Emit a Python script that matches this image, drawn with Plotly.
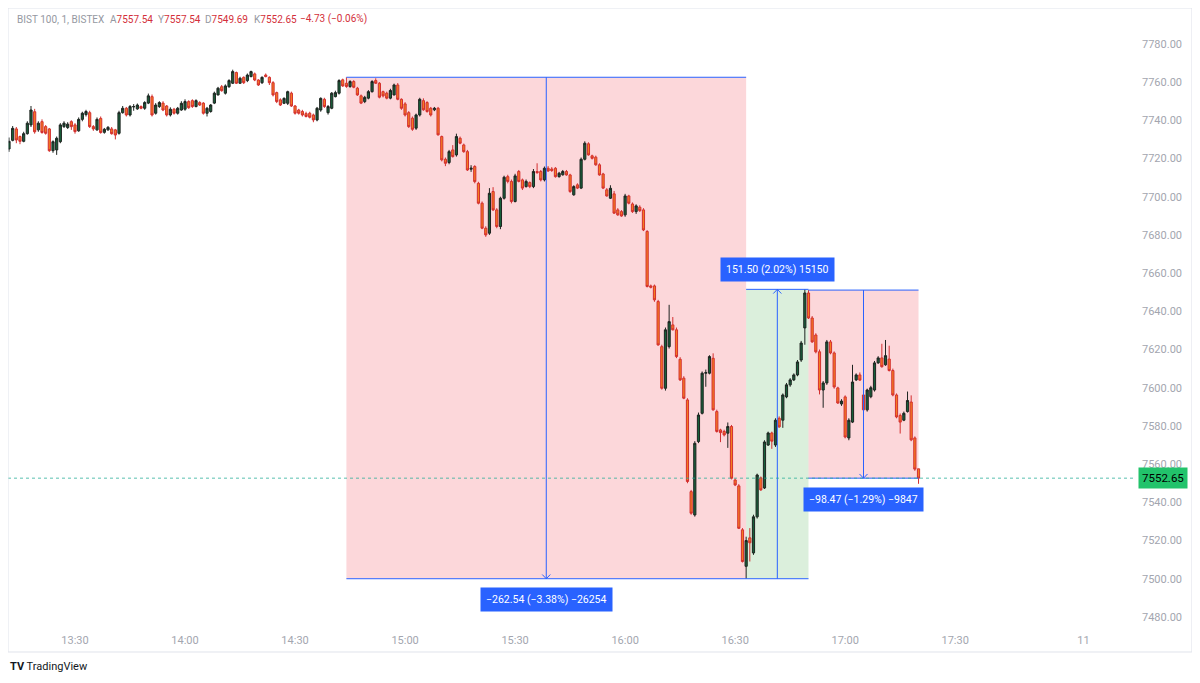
import plotly.graph_objects as go

# ---------------- data (1-minute bars, minutes after 13:30; 13:12 ... 17:20) ----------------
minutes = list(range(-18, 231))

open_ = [
    7725.0, 7729.5, 7735.5, 7731.5, 7729.0, 7733.0, 7737.6, 7744.5, 7735.0, 7739.3,
    7736.7, 7735.5, 7724.1, 7724.5, 7728.8, 7736.7, 7736.2, 7739.3, 7737.6, 7734.5,
    7740.5, 7743.0, 7744.0, 7736.7, 7735.0, 7741.0, 7733.7, 7735.0, 7735.5, 7735.0,
    7733.2, 7744.0, 7746.3, 7742.8, 7747.0, 7746.0, 7747.2, 7746.3, 7749.0, 7752.4,
    7743.7, 7747.2, 7749.0, 7747.5, 7742.8, 7745.8, 7743.7, 7745.4, 7745.8, 7749.8,
    7750.3, 7747.2, 7749.3, 7749.0, 7743.7, 7744.6, 7749.0, 7753.3, 7757.6, 7754.2,
    7757.6, 7759.4, 7765.0, 7759.4, 7762.5, 7760.8, 7762.9, 7764.3, 7761.1, 7759.7,
    7763.7, 7762.5, 7759.7, 7754.5, 7750.7, 7748.9, 7748.9, 7754.2, 7747.5, 7745.4,
    7744.6, 7743.5, 7743.7, 7742.8, 7740.2, 7745.4, 7751.0, 7744.0, 7746.3, 7752.4,
    7754.2, 7761.2, 7759.4, 7757.7, 7760.3, 7756.8, 7752.8, 7749.8, 7751.6, 7755.0,
    7760.8, 7759.4, 7755.0, 7754.2, 7751.6, 7753.3, 7758.5, 7751.0, 7748.6, 7744.0,
    7741.1, 7735.9, 7742.8, 7750.3, 7749.3, 7746.3, 7745.5, 7746.3, 7731.5, 7719.6,
    7717.9, 7724.5, 7721.9, 7730.6, 7727.1, 7723.6, 7714.4, 7715.8, 7707.0, 7696.6,
    7683.5, 7680.9, 7702.7, 7693.1, 7684.4, 7699.2, 7710.5, 7708.0, 7697.5, 7713.2,
    7708.8, 7705.3, 7707.4, 7705.3, 7713.2, 7713.2, 7708.8, 7714.9, 7714.5, 7714.9,
    7710.5, 7711.5, 7713.2, 7711.4, 7701.0, 7706.2, 7704.5, 7719.6, 7727.7, 7721.4,
    7720.7, 7716.7, 7711.9, 7703.6, 7699.2, 7701.5, 7693.1, 7692.2, 7690.5, 7700.4,
    7696.2, 7692.2, 7694.5, 7693.1, 7681.8, 7653.3, 7653.3, 7645.1, 7621.5, 7599.7,
    7621.5, 7632.9, 7630.3, 7614.9, 7605.0, 7593.6, 7545.6, 7533.4, 7571.8, 7586.6,
    7607.6, 7607.6, 7615.4, 7587.5, 7577.9, 7577.1, 7576.2, 7579.7, 7551.7, 7548.6,
    7525.6, 7506.5, 7521.4, 7513.5, 7532.4, 7552.8, 7547.5, 7570.0, 7576.3, 7570.0,
    7584.0, 7583.0, 7595.2, 7601.5, 7604.1, 7606.7, 7614.5, 7631.3, 7649.6, 7636.5,
    7627.6, 7618.8, 7598.8, 7602.5, 7624.0, 7618.2, 7599.9, 7591.5, 7595.2, 7573.7,
    7582.0, 7604.1, 7606.7, 7596.2, 7588.4, 7595.3, 7598.8, 7613.0, 7615.6, 7612.0,
    7615.0, 7609.0, 7596.2, 7585.5, 7583.0, 7587.5, 7592.5, 7573.7, 7557.54,
]
high = [
    7731.0, 7737.0, 7736.5, 7732.0, 7734.0, 7739.5, 7747.5, 7746.0, 7739.5, 7740.5,
    7737.5, 7736.0, 7729.5, 7731.5, 7738.5, 7739.5, 7739.0, 7740.0, 7738.5, 7741.5,
    7744.5, 7745.5, 7745.0, 7737.5, 7741.5, 7742.0, 7736.0, 7737.0, 7736.5, 7735.5,
    7745.0, 7747.5, 7747.0, 7748.0, 7748.5, 7748.8, 7747.8, 7750.0, 7754.0, 7753.5,
    7749.0, 7750.0, 7750.0, 7748.0, 7746.8, 7746.5, 7747.0, 7750.0, 7751.0, 7750.5,
    7751.0, 7751.0, 7750.0, 7749.5, 7747.0, 7748.5, 7755.0, 7757.5, 7758.5, 7758.8,
    7761.5, 7766.5, 7765.5, 7762.8, 7763.0, 7764.5, 7766.0, 7765.0, 7761.5, 7763.0,
    7764.5, 7763.0, 7760.5, 7755.0, 7751.5, 7752.0, 7755.5, 7755.0, 7748.0, 7746.0,
    7745.5, 7744.5, 7744.5, 7743.5, 7747.0, 7752.0, 7751.8, 7748.0, 7754.8, 7755.5,
    7761.5, 7761.8, 7762.5, 7761.0, 7761.0, 7757.5, 7753.5, 7752.8, 7755.8, 7761.0,
    7762.0, 7760.0, 7755.5, 7755.0, 7756.5, 7759.2, 7759.5, 7751.5, 7749.5, 7744.8,
    7742.0, 7743.5, 7751.8, 7751.5, 7750.0, 7747.0, 7747.0, 7747.0, 7732.0, 7720.5,
    7724.5, 7727.0, 7733.0, 7731.5, 7727.8, 7724.5, 7716.5, 7716.5, 7707.8, 7697.5,
    7684.5, 7704.5, 7705.0, 7694.0, 7700.0, 7711.0, 7711.5, 7709.0, 7712.0, 7714.0,
    7709.5, 7709.0, 7708.0, 7714.5, 7717.5, 7714.0, 7715.8, 7716.0, 7715.5, 7715.5,
    7713.0, 7714.0, 7714.0, 7712.0, 7706.0, 7707.0, 7720.5, 7729.0, 7728.5, 7722.0,
    7721.5, 7717.5, 7712.5, 7704.5, 7706.0, 7703.0, 7694.0, 7693.0, 7701.5, 7701.0,
    7697.0, 7696.0, 7695.5, 7694.0, 7682.5, 7654.0, 7654.0, 7646.0, 7622.5, 7631.5,
    7643.4, 7637.0, 7631.5, 7616.0, 7606.0, 7594.5, 7546.5, 7572.0, 7587.0, 7608.5,
    7609.5, 7617.0, 7618.0, 7588.5, 7578.5, 7578.0, 7581.8, 7580.5, 7552.5, 7549.5,
    7526.5, 7522.0, 7526.5, 7533.5, 7555.0, 7553.5, 7572.5, 7577.0, 7577.0, 7584.0,
    7585.0, 7597.0, 7602.5, 7605.0, 7607.5, 7614.5, 7624.5, 7651.5, 7651.1, 7637.5,
    7628.5, 7620.0, 7603.5, 7625.0, 7625.0, 7619.0, 7600.5, 7594.0, 7596.0, 7584.0,
    7612.0, 7607.5, 7608.0, 7604.0, 7599.5, 7601.0, 7614.0, 7616.5, 7623.0, 7625.0,
    7622.0, 7610.0, 7597.0, 7586.5, 7587.5, 7598.0, 7596.0, 7574.5, 7557.54,
]
low = [
    7723.5, 7729.0, 7728.0, 7727.5, 7728.5, 7732.5, 7736.5, 7733.0, 7734.0, 7733.0,
    7732.5, 7723.5, 7723.0, 7721.9, 7728.0, 7736.0, 7735.5, 7735.0, 7733.0, 7734.0,
    7739.5, 7742.0, 7736.0, 7734.5, 7734.5, 7733.0, 7733.0, 7734.5, 7732.5, 7730.0,
    7732.5, 7743.5, 7742.0, 7742.0, 7745.0, 7745.5, 7745.8, 7745.5, 7748.5, 7742.0,
    7743.0, 7746.5, 7744.8, 7742.0, 7742.0, 7743.0, 7743.0, 7745.0, 7745.0, 7746.0,
    7746.5, 7746.8, 7747.5, 7743.0, 7742.0, 7744.0, 7748.5, 7753.0, 7755.0, 7753.5,
    7757.0, 7759.0, 7759.0, 7759.0, 7759.0, 7760.0, 7762.5, 7760.5, 7758.0, 7759.0,
    7762.5, 7758.5, 7752.5, 7749.0, 7747.5, 7748.5, 7748.0, 7747.0, 7743.0, 7743.0,
    7742.0, 7741.5, 7741.0, 7739.0, 7739.5, 7744.5, 7746.5, 7743.0, 7745.8, 7752.0,
    7753.5, 7757.5, 7757.0, 7757.0, 7756.8, 7752.8, 7748.5, 7749.0, 7751.0, 7754.5,
    7759.0, 7751.5, 7752.0, 7751.0, 7751.0, 7753.0, 7750.5, 7745.5, 7742.0, 7736.0,
    7734.5, 7735.0, 7742.0, 7745.0, 7744.0, 7742.0, 7744.8, 7732.0, 7718.5, 7716.0,
    7717.0, 7720.5, 7721.0, 7727.5, 7723.0, 7713.5, 7713.0, 7707.0, 7696.0, 7683.0,
    7679.0, 7680.0, 7692.5, 7683.5, 7683.0, 7698.5, 7707.0, 7696.5, 7697.0, 7707.5,
    7703.5, 7704.8, 7704.5, 7704.5, 7712.0, 7708.0, 7708.0, 7713.0, 7713.0, 7710.0,
    7710.0, 7711.0, 7711.0, 7702.0, 7700.5, 7704.0, 7704.0, 7719.0, 7721.5, 7719.5,
    7716.2, 7711.0, 7704.0, 7700.0, 7698.8, 7691.0, 7690.0, 7689.5, 7689.5, 7696.0,
    7691.5, 7691.0, 7692.0, 7682.0, 7652.5, 7652.0, 7645.0, 7622.0, 7599.0, 7598.5,
    7620.5, 7630.0, 7615.5, 7603.5, 7594.0, 7550.0, 7533.5, 7532.5, 7571.0, 7586.0,
    7600.5, 7607.0, 7588.0, 7576.5, 7571.5, 7574.5, 7568.5, 7552.0, 7548.5, 7526.0,
    7508.5, 7500.0, 7509.0, 7512.5, 7531.5, 7546.0, 7547.0, 7569.5, 7568.0, 7569.0,
    7579.0, 7579.0, 7594.5, 7600.5, 7603.5, 7606.0, 7613.5, 7622.5, 7636.0, 7623.5,
    7618.0, 7596.5, 7589.5, 7601.5, 7617.5, 7599.5, 7591.5, 7590.5, 7573.5, 7572.5,
    7581.5, 7603.5, 7603.5, 7587.5, 7587.5, 7594.5, 7598.0, 7612.5, 7610.5, 7611.5,
    7608.5, 7595.5, 7584.0, 7576.0, 7582.5, 7587.0, 7572.0, 7556.5, 7549.69,
]
close = [
    7729.0, 7735.8, 7729.7, 7729.0, 7733.0, 7738.5, 7745.4, 7734.0, 7738.5, 7733.6,
    7733.2, 7724.1, 7728.8, 7730.6, 7737.6, 7738.5, 7738.0, 7736.7, 7734.1, 7740.5,
    7743.7, 7744.6, 7736.7, 7735.5, 7740.5, 7733.6, 7735.3, 7736.3, 7733.0, 7732.3,
    7744.0, 7746.3, 7742.8, 7747.2, 7747.2, 7748.0, 7746.3, 7749.3, 7752.8, 7742.8,
    7748.0, 7749.3, 7745.4, 7742.8, 7745.8, 7743.7, 7746.3, 7748.9, 7749.8, 7746.6,
    7747.2, 7750.3, 7748.0, 7743.7, 7746.3, 7748.0, 7754.2, 7756.8, 7755.5, 7758.0,
    7760.8, 7765.5, 7759.4, 7762.0, 7759.7, 7763.7, 7765.5, 7761.1, 7758.5, 7762.5,
    7762.9, 7759.7, 7753.3, 7749.8, 7748.0, 7751.5, 7755.0, 7747.5, 7743.7, 7743.7,
    7742.8, 7742.0, 7741.6, 7740.2, 7746.3, 7751.5, 7747.2, 7747.2, 7754.2, 7754.5,
    7760.8, 7758.0, 7757.7, 7760.3, 7757.3, 7753.3, 7749.0, 7752.0, 7755.0, 7760.3,
    7759.4, 7752.1, 7752.8, 7751.6, 7755.6, 7758.5, 7751.0, 7746.3, 7742.8, 7736.7,
    7735.3, 7742.8, 7751.0, 7745.5, 7744.6, 7742.8, 7746.3, 7732.4, 7719.3, 7717.5,
    7723.6, 7721.0, 7731.5, 7728.0, 7723.6, 7714.0, 7714.9, 7707.9, 7696.6, 7683.5,
    7680.0, 7701.8, 7693.1, 7684.4, 7699.2, 7710.2, 7708.0, 7697.5, 7710.9, 7708.0,
    7704.5, 7708.0, 7705.3, 7713.2, 7712.6, 7708.8, 7714.9, 7713.5, 7713.7, 7710.5,
    7712.3, 7713.2, 7711.4, 7702.7, 7705.3, 7704.5, 7719.6, 7728.0, 7721.9, 7720.1,
    7716.7, 7711.4, 7704.5, 7700.4, 7704.4, 7691.4, 7690.5, 7689.9, 7700.4, 7696.6,
    7692.2, 7695.2, 7692.7, 7682.6, 7653.0, 7652.6, 7646.0, 7622.4, 7599.7, 7630.3,
    7634.6, 7630.3, 7616.3, 7604.1, 7594.5, 7550.9, 7534.3, 7570.9, 7585.7, 7607.6,
    7607.9, 7616.3, 7588.4, 7577.1, 7576.5, 7575.3, 7579.7, 7552.6, 7549.1, 7526.4,
    7509.0, 7520.0, 7518.8, 7532.4, 7554.3, 7546.5, 7571.6, 7576.3, 7572.0, 7583.0,
    7579.5, 7596.2, 7601.5, 7604.1, 7606.7, 7613.5, 7623.4, 7649.6, 7636.5, 7624.0,
    7618.8, 7598.8, 7602.5, 7624.0, 7618.2, 7600.4, 7592.0, 7593.0, 7574.2, 7583.0,
    7603.0, 7606.7, 7604.0, 7588.4, 7598.8, 7600.0, 7613.0, 7615.6, 7611.0, 7616.8,
    7609.0, 7596.2, 7584.7, 7582.0, 7586.6, 7593.3, 7572.7, 7557.38, 7552.65,
]

# time axis labels (minutes after 13:30) and price axis ticks
tick_minutes = [0, 30, 60, 90, 120, 150, 180, 210, 240, 275]
tick_labels = ["13:30", "14:00", "14:30", "15:00", "15:30", "16:00", "16:30", "17:00", "17:30", "11"]
price_ticks = [7480, 7500, 7520, 7540, 7560, 7580, 7600, 7620, 7640, 7660,
               7680, 7700, 7720, 7740, 7760, 7780]

# date & price range measurements: start/end minute, start/end price
range_start_min = [74, 183, 200]
range_end_min = [183, 200, 230]
range_start_price = [7762.54, 7500.00, 7651.12]
range_end_price = [7500.00, 7651.50, 7552.65]

# ---------------- styling ----------------
RED_FILL = "rgba(242,54,69,0.2)"
GREEN_FILL = "rgba(76,175,80,0.2)"
BLUE = "#2962ff"
AXIS_TXT = "#a3a6af"
FONT = "Roboto, Arial, sans-serif"

X0, X1 = -18.27, 289.3
Y0, Y1 = 7474.2, 7798.8

fig = go.Figure()

fig.add_trace(go.Candlestick(
    x=minutes, open=open_, high=high, low=low, close=close,
    increasing=dict(line=dict(color="#1e2420", width=1), fillcolor="#17603a"),
    decreasing=dict(line=dict(color="#d32f2f", width=1), fillcolor="#f47c20"),
    whiskerwidth=0, hoverinfo="skip", showlegend=False,
))

shapes = []
annotations = []
for i in range(3):
    t0, t1 = range_start_min[i], range_end_min[i]
    p0, p1 = range_start_price[i], range_end_price[i]
    diff = p1 - p0
    fill = GREEN_FILL if diff > 0 else RED_FILL
    lo, hi = min(p0, p1), max(p0, p1)
    shapes.append(dict(type="rect", xref="x", yref="y", x0=t0, x1=t1, y0=lo, y1=hi,
                       fillcolor=fill, line=dict(width=0), layer="below"))
    for p in (lo, hi):
        shapes.append(dict(type="line", xref="x", yref="y", x0=t0, x1=t1, y0=p, y1=p,
                           line=dict(color=BLUE, width=1), layer="above"))
    tm = (t0 + t1) / 2
    dirn = 1 if diff > 0 else -1
    # arrow shaft and chevron
    fig.add_trace(go.Scatter(x=[tm, tm], y=[p0, p1], mode="lines",
                             line=dict(color=BLUE, width=1), hoverinfo="skip", showlegend=False))
    fig.add_trace(go.Scatter(x=[tm - 1.1, tm, tm + 1.1], y=[p1 - dirn * 2.2, p1, p1 - dirn * 2.2],
                             mode="lines", line=dict(color=BLUE, width=1),
                             hoverinfo="skip", showlegend=False))
    sign = "" if diff > 0 else "\u2212"
    pct = abs(diff) / p0 * 100
    txt = f"{sign}{abs(diff):.2f} ({sign}{pct:.2f}%) {sign}{abs(round(diff * 100))}"
    annotations.append(dict(x=tm, y=p1 if diff > 0 else lo, xref="x", yref="y",
                            text=txt, showarrow=False, bgcolor=BLUE, borderpad=5,
                            font=dict(color="white", size=10.5, family=FONT),
                            yshift=20 if diff > 0 else -21))

# last price dotted line and label
last = close[-1]
shapes.append(dict(type="line", xref="paper", yref="y", x0=0, x1=1, y0=last, y1=last,
                   line=dict(color="rgba(34,171,148,0.75)", width=1, dash="dot"), layer="above"))
annotations.append(dict(x=1.0018, xref="paper", y=last, yref="y", xanchor="left",
                        text=f"{last:.2f}", showarrow=False, bgcolor="#22c36b", borderpad=3,
                        font=dict(color="#000000", size=11.5, family=FONT)))

# outer frame
shapes.append(dict(type="rect", xref="paper", yref="paper", x0=0, x1=1.0496, y0=-0.0387, y1=1,
                   line=dict(color="#e0e3eb", width=1), fillcolor="rgba(0,0,0,0)", layer="above"))

# header legend (symbol, then O/H/L/C of the last bar and the change)
chg = close[-1] - close[-2]
chg_pct = chg / close[-2] * 100
g = "#9598a1"
r = "#d32f3a"
header_parts = [
    ("BIST 100, 1, BISTEX", None),
    ("A", open_[-1]), ("Y", high[-1]), ("D", low[-1]), ("K", close[-1]),
]
header_x = [0.0062, 0.0887, 0.1312, 0.1729, 0.2163]
for (lab, val), hx in zip(header_parts, header_x):
    if val is None:
        txt = f'<span style="color:{g}">{lab}</span>'
    else:
        txt = f'<span style="color:{g}">{lab}</span><span style="color:{r}">{val:.2f}</span>'
    annotations.append(dict(x=hx, y=0.982, xref="paper", yref="paper", xanchor="left",
                            yanchor="middle", text=txt, showarrow=False,
                            font=dict(size=10, family=FONT, color=g)))
annotations.append(dict(x=0.2571, y=0.982, xref="paper", yref="paper", xanchor="left",
                        yanchor="middle", showarrow=False,
                        text=f"\u2212{abs(chg):.2f} (\u2212{abs(chg_pct):.2f}%)",
                        font=dict(size=10, family=FONT, color=r)))

# TradingView logo
annotations.append(dict(x=0.0, y=-0.0629, xref="paper", yref="paper", xanchor="left",
                        yanchor="middle", text="<b>TV</b> TradingView", showarrow=False,
                        font=dict(size=11, family=FONT, color="#131722")))

# the page body adds an 8 px margin, so the figure itself starts at the pane corner
fig.update_layout(
    width=1192, height=675,
    margin=dict(l=0, r=64, t=0, b=55),
    paper_bgcolor="white", plot_bgcolor="white",
    shapes=shapes, annotations=annotations,
    showlegend=False, boxgap=0.15,
    xaxis=dict(range=[X0, X1], rangeslider=dict(visible=False), showgrid=False,
               zeroline=False, showline=False, ticks="", tickvals=tick_minutes,
               ticktext=tick_labels, tickfont=dict(size=11, color=AXIS_TXT, family=FONT),
               ticklabelstandoff=4),
    yaxis=dict(range=[Y0, Y1], side="right", showgrid=False, zeroline=False, showline=False,
               ticks="", tickvals=price_ticks, ticktext=[f"{p:.2f}" for p in price_ticks],
               tickfont=dict(size=11, color=AXIS_TXT, family=FONT), ticklabelstandoff=5),
)

fig.write_html("out.html")
